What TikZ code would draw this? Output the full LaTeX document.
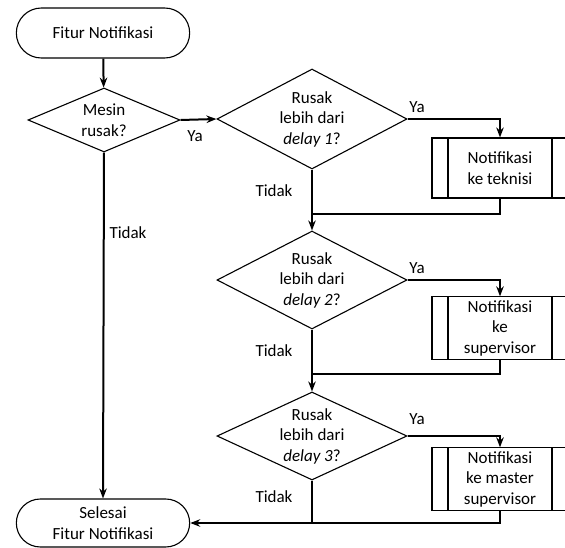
\documentclass[tikz,border=0pt]{standalone}
\usepackage{fontspec}
\setmainfont{Carlito}
\usepackage{tikz}
\usetikzlibrary{arrows.meta,shapes}
\tikzset{
    >={Stealth[length=10pt,width=7.5pt]},
    terminal/.style={
        draw=black,
        line width=1.1pt,
        rounded rectangle,
        minimum width=180pt,
        minimum height=50pt,
        align=center,
    },
    decision/.style={
        draw=black,
        line width=1.1pt,
        diamond,
        shape aspect=1.9,
        inner sep=0pt,
        minimum width=190pt,
        minimum height=100pt,
        align=center,
    },
    process/.style={
        draw=black,
        line width=1.1pt,
        rectangle,
        minimum width=136pt,
        minimum height=60pt,
        align=center,
        path picture={
            \draw[line width=1.1pt]
                ([xshift=16pt]path picture bounding box.north west) --
                ([xshift=16pt]path picture bounding box.south west)
                ([xshift=-16pt]path picture bounding box.north east) --
                ([xshift=-16pt]path picture bounding box.south east);
        },
    },
    flow/.style={
        line width=2pt,
    },
    answer/.style={},
}

\begin{document}
\begin{tikzpicture}[x=1pt, y=-1pt, font=\fontsize{17}{20.5}\selectfont]
            \clip (0,0) rectangle (565,548);

            \node[terminal] (start) at (103,33) {Fitur Notifikasi};
            \node[decision, shape aspect=2.4, minimum width=152pt, minimum height=64pt] (rusak) at (104,120) {Mesin\\rusak?};
            \node[decision] (delay1) at (312,119) {Rusak\\lebih dari\\\emph{delay 1}?};
            \node[decision, minimum height=98pt] (delay2) at (312,280) {Rusak\\lebih dari\\\emph{delay 2}?};
            \node[decision, minimum height=88pt, inner sep=-3pt] (delay3) at (312,436) {Rusak\\lebih dari\\\emph{delay 3}?};
            \node[process] (teknisi) at (500,168) {Notifikasi\\ke teknisi};
            \node[process] (spv) at (500,328) {Notifikasi\\ke\\supervisor};
            \node[process] (master) at (500,479) {Notifikasi\\ke master\\supervisor};
            \node[terminal, minimum height=48pt] (selesai) at (103,523) {Selesai\\Fitur Notifikasi};

            \coordinate (join1) at (312,214);
            \coordinate (join2) at (312,374);
            \coordinate (join3) at (312,523);

            \draw[flow,->] (start) -- (rusak);
            \draw[flow,->] (rusak.east) -- (delay1.west);
            \draw[flow,->] (rusak.south) -- (selesai.north);

            \draw[flow,->] (delay1.east) -| (teknisi.north);
            \draw[flow] (delay1.south) -- (join1);
            \draw[flow] (teknisi.south) |- (join1);
            \draw[flow,->] (join1) -- (delay2.north);

            \draw[flow,->] (delay2.east) -| (spv.north);
            \draw[flow] (delay2.south) -- (join2);
            \draw[flow] (spv.south) |- (join2);
            \draw[flow,->] (join2) -- (delay3.north);

            \draw[flow,->] (delay3.east) -| (master.north);
            \draw[flow] (delay3.south) -- (join3);
            \draw[flow,->] (master.south) |- (selesai.east);

            \node[answer] (ya0) at (195,136) {Ya};
            \node[answer] (tidak0) at (128,233) {Tidak};
            \node[answer] (ya1) at (417,107) {Ya};
            \node[answer] (tidak1) at (274,191) {Tidak};
            \node[answer] (ya2) at (417,268) {Ya};
            \node[answer] (tidak2) at (274,351) {Tidak};
            \node[answer] (ya3) at (417,419) {Ya};
            \node[answer] (tidak3) at (274,497) {Tidak};
        \end{tikzpicture}
\end{document}
